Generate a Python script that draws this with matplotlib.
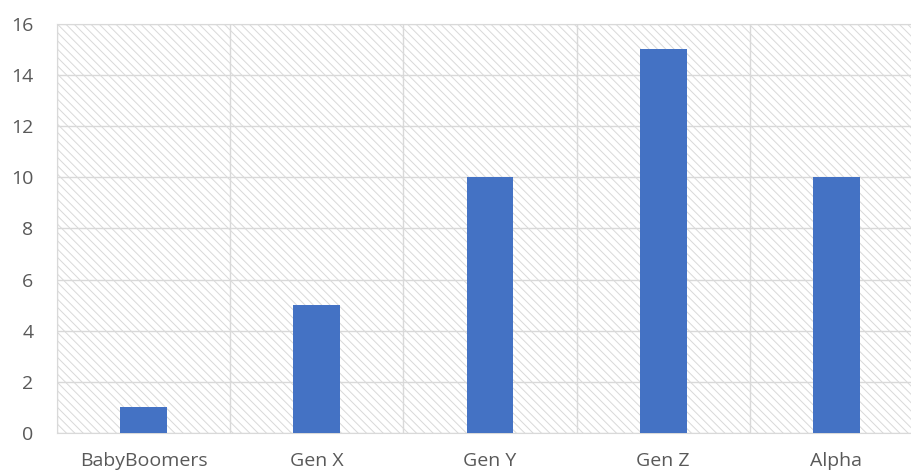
import matplotlib
matplotlib.use("Agg")
import matplotlib.pyplot as plt
from matplotlib.patches import Rectangle

categories = ["BabyBoomers", "Gen X", "Gen Y", "Gen Z", "Alpha"]
values = [1, 5, 10, 15, 10]
yticks = [0, 2, 4, 6, 8, 10, 12, 14, 16]

plt.rcParams['font.family'] = ['Open Sans', 'DejaVu Sans']
plt.rcParams['hatch.linewidth'] = 0.7

fig = plt.figure(figsize=(9.12, 4.73), dpi=100)
ax = fig.add_axes([0.0625, 0.0846, 0.9496, 0.865])

grid_c = '#d9d9d9'
# hatched plot background
ax.add_patch(Rectangle((0, 0), 1, 1, transform=ax.transAxes, fill=False,
                       hatch='\\\\\\\\', edgecolor=grid_c, lw=0, zorder=0))

x = range(len(categories))
ax.bar(x, values, width=0.27, color='#4472c4', zorder=3)

ax.set_xlim(-0.5, len(categories) - 0.5)
ax.set_ylim(0, 16)
ax.set_yticks(yticks)
ax.set_xticks(list(x))
ax.set_xticklabels(categories)
ax.set_xticks([i + 0.5 for i in range(-1, len(categories))], minor=True)

ax.grid(axis='y', color=grid_c, lw=1, zorder=1)
ax.grid(axis='x', which='minor', color=grid_c, lw=1, zorder=1)
ax.grid(axis='x', which='major', visible=False)
ax.set_axisbelow(True)

for s in ax.spines.values():
    s.set_color(grid_c)
ax.tick_params(which='both', length=0, labelcolor='#595959', labelsize=14)
ax.tick_params(axis='x', pad=14)
ax.tick_params(axis='y', pad=17)

plt.savefig("out.png", dpi=100)
